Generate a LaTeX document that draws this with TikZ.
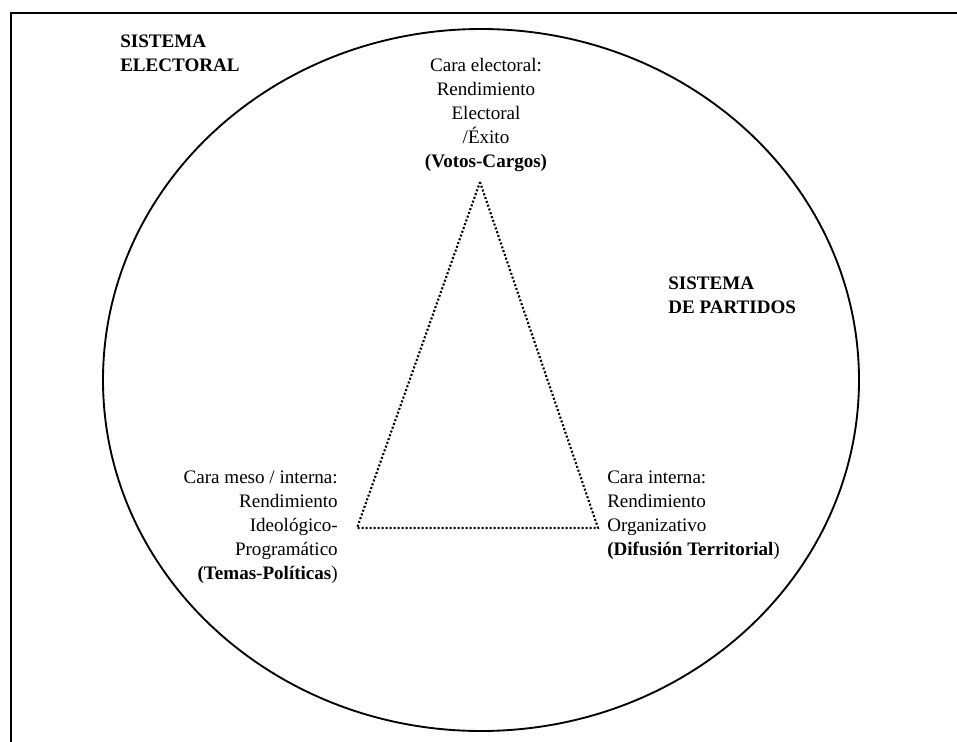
\documentclass[tikz,border=0pt]{standalone}
\usepackage{fontspec}
\setmainfont{Liberation Serif}

\tikzset{
  txt/.style={font=\fontsize{14.3}{18}\selectfont, inner sep=0pt},
  titulo/.style={txt, font=\fontsize{14.3}{18}\selectfont\bfseries, align=left, anchor=base west},
  punteado/.style={line width=1.6pt, dash pattern=on 1.5pt off 1.5pt}
}

\begin{document}
\begin{tikzpicture}[x=0.75pt, y=-0.75pt]
                \useasboundingbox (0,0) rectangle (957,742);
                \draw[line width=1.6pt] (11,742) -- (11,13) -- (957,13);
                \draw[line width=1.4pt] (481,380) ellipse [x radius=283.5pt, y radius=263.25pt];

                \coordinate (arriba) at (480,182);
                \coordinate (izq) at (357,528);
                \coordinate (der) at (598,528);
                \draw[punteado] (arriba) -- (der) -- (izq) -- cycle;

                \node[titulo] (selectoral) at (120,72) {SISTEMA\\ELECTORAL};
                \node[titulo] (spartidos) at (668,313) {SISTEMA\\DE PARTIDOS};

                \node[txt, align=center, anchor=base] (electoral) at (486,167)
                    {Cara electoral:\\Rendimiento\\Electoral\\/Éxito\\\textbf{(Votos-Cargos)}};
                \node[txt, align=right, anchor=base east] (meso) at (338,579)
                    {Cara meso / interna:\\Rendimiento\\Ideológico-\\Programático\\\textbf{(Temas-Políticas})};
                \node[txt, align=left, anchor=base west] (interna) at (607,555)
                    {Cara interna:\\Rendimiento\\Organizativo\\\textbf{(Difusión Territorial})};
            \end{tikzpicture}
\end{document}
